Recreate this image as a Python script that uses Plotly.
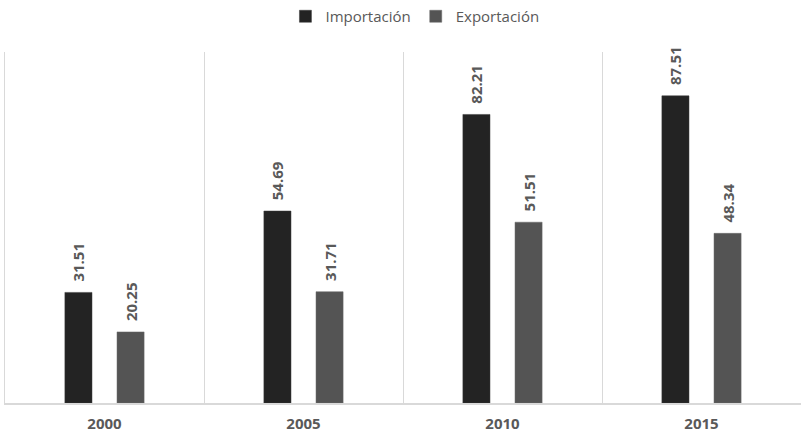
import plotly.graph_objects as go

years = ["2000", "2005", "2010", "2015"]
importacion = [31.51, 54.69, 82.21, 87.51]
exportacion = [20.25, 31.71, 51.51, 48.34]

label_font = dict(family="Open Sans", size=15, color="#595959", weight="bold")
label_template = "\u00a0\u00a0%{y:.2f}"

fig = go.Figure()
fig.add_trace(go.Bar(
    name="Importación", x=years, y=importacion,
    marker=dict(color="#232323", line=dict(color="#3a3a3a", width=0.5)),
    texttemplate=label_template, textposition="outside",
    textangle=-90, textfont=label_font, constraintext="none",
    cliponaxis=False,
))
fig.add_trace(go.Bar(
    name="Exportación", x=years, y=exportacion,
    marker=dict(color="#545454", line=dict(color="#6a6a6a", width=0.5)),
    texttemplate=label_template, textposition="outside",
    textangle=-90, textfont=label_font, constraintext="none",
    cliponaxis=False,
))

fig.update_layout(
    width=801, height=436,
    margin=dict(l=5, r=0, t=50, b=33),
    paper_bgcolor="white", plot_bgcolor="white",
    barmode="group", bargap=0.476, bargroupgap=0.48,
    legend=dict(orientation="h", x=0.515, xanchor="center", y=1.102, yanchor="middle",
                font=dict(family="Open Sans", size=15, color="#595959"),
                itemwidth=30, traceorder="normal"),
    xaxis=dict(type="category", range=[-0.5, 3.5], tickson="boundaries",
               showgrid=True, gridcolor="#d9d9d9", gridwidth=1,
               showline=True, linecolor="#d9d9d9", linewidth=2,
               ticks="", ticklabelstandoff=6,
               tickfont=dict(family="Open Sans", size=15, color="#595959", weight="bold")),
    yaxis=dict(range=[0, 100], showgrid=False, showticklabels=False, zeroline=False,
               showline=True, linecolor="#d9d9d9", linewidth=1, ticks=""),
    showlegend=True,
)

fig.write_html("out.html", config={"displayModeBar": False},
               post_script="document.body.style.margin='0';document.body.style.padding='0';")
